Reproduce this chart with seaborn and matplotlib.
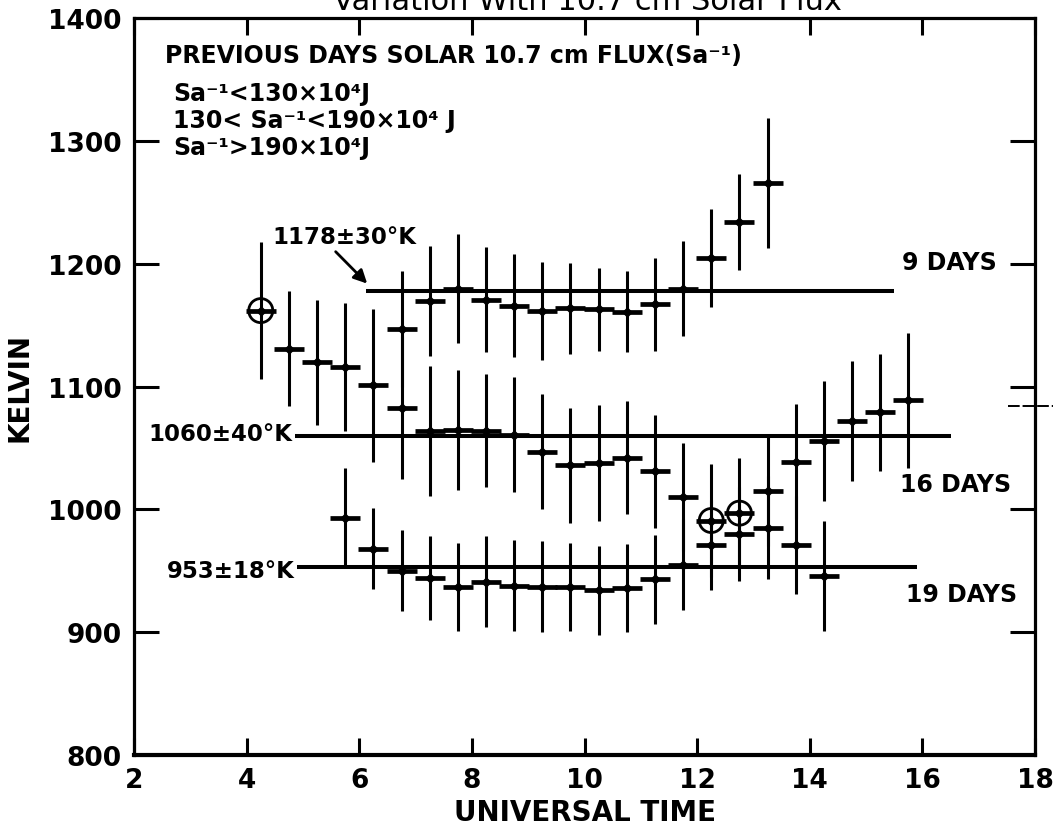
import matplotlib
matplotlib.use("Agg")
import matplotlib.pyplot as plt
import numpy as np
import pandas as pd
import seaborn as sns

# ---- data: exospheric temperature (K) vs universal time (h), three flux groups ----
ut_9 = [4.25, 6.75, 7.25, 7.75, 8.25, 8.75, 9.25, 9.75, 10.25, 10.75, 11.25,
        11.75, 12.25, 12.75, 13.25]
temp_9 = [1162, 1147, 1170, 1180, 1171, 1166, 1162, 1164, 1163, 1161, 1167,
          1180, 1205, 1234, 1266]
err_9 = [56, 47, 45, 44, 43, 42, 40, 37, 34, 33, 38, 39, 40, 39, 53]

ut_16 = [4.75, 5.25, 5.75, 6.25, 6.75, 7.25, 7.75, 8.25, 8.75, 9.25, 9.75,
         10.25, 10.75, 11.25, 11.75, 12.25, 12.75, 13.25, 13.75, 14.25, 14.75,
         15.25, 15.75]
temp_16 = [1131, 1120, 1116, 1101, 1083, 1064, 1065, 1064, 1061, 1047, 1036,
           1038, 1042, 1031, 1010, 991, 997, 1015, 1039, 1056, 1072, 1079, 1089]
err_16 = [47, 51, 52, 62, 58, 53, 49, 46, 47, 47, 47, 47, 46, 46, 44, 46, 45,
          45, 47, 49, 49, 48, 55]

ut_19 = [5.75, 6.25, 6.75, 7.25, 7.75, 8.25, 8.75, 9.25, 9.75, 10.25, 10.75,
         11.25, 11.75, 12.25, 12.75, 13.25, 13.75, 14.25]
temp_19 = [993, 968, 950, 944, 937, 941, 938, 937, 937, 934, 936, 943, 955,
           971, 980, 985, 971, 946]
err_19 = [41, 33, 33, 34, 36, 37, 37, 37, 36, 36, 36, 36, 37, 37, 38, 42, 40, 45]

# circled (highlighted) observations
circled_ut = [4.25, 12.25, 12.75]
circled_temp = [1162, 991, 997]

# group means and scatter
group_names = ["9 DAYS", "16 DAYS", "19 DAYS"]
group_mean = [1178, 1060, 953]
group_sd = [30, 40, 18]

legend_lines = [
    "PREVIOUS DAYS SOLAR 10.7 cm FLUX(Sa\u207b\u00b9)",
    "Sa\u207b\u00b9<130\u00d710\u2074J",
    "130< Sa\u207b\u00b9<190\u00d710\u2074 J",
    "Sa\u207b\u00b9>190\u00d710\u2074J",
]

df = pd.concat([
    pd.DataFrame({"ut": ut_9, "temp": temp_9, "err": err_9, "group": "9 DAYS"}),
    pd.DataFrame({"ut": ut_16, "temp": temp_16, "err": err_16, "group": "16 DAYS"}),
    pd.DataFrame({"ut": ut_19, "temp": temp_19, "err": err_19, "group": "19 DAYS"}),
], ignore_index=True)

# ---- style ----
sns.set_theme(style="ticks")
plt.rcParams["font.family"] = ["DejaVu Sans"]
plt.rcParams["font.weight"] = "bold"
for key in ["text.color", "axes.labelcolor", "xtick.color", "ytick.color",
            "axes.edgecolor"]:
    plt.rcParams[key] = "black"

fig = plt.figure(figsize=(10.53, 8.28), dpi=100)
ax = fig.add_axes([0.1273, 0.0870, 0.8557, 0.8895])

# vertical error bars
ax.errorbar(df["ut"], df["temp"], yerr=df["err"], fmt="none",
            ecolor="black", elinewidth=2.2, capsize=0, zorder=2)

# horizontal dash marks for each hourly mean
sns.scatterplot(data=df, x="ut", y="temp", marker="_", s=470,
                color="black", linewidth=3.4, legend=False, ax=ax, zorder=3)
sns.scatterplot(data=df, x="ut", y="temp", marker="D", s=26,
                color="black", edgecolor="black", legend=False, ax=ax, zorder=4)

# open circles
ax.scatter(circled_ut, circled_temp, s=300, facecolors="none",
           edgecolors="black", linewidths=2.0, zorder=5)

# group mean lines
line_spans = [(6.12, 15.5), (4.86, 16.5), (4.9, 15.9)]
for m, (x0, x1) in zip(group_mean, line_spans):
    ax.hlines(m, x0, x1, color="black", lw=2.9, zorder=2.5)

# mean labels
ax.text(4.45, 1222, f"{group_mean[0]}\u00b1{group_sd[0]}\u00b0K",
        fontsize=16.5, fontweight="bold", ha="left", va="center")
ax.annotate("", xy=(6.14, 1184), xytext=(5.58, 1210),
            arrowprops=dict(arrowstyle="-|>", lw=2.0, color="black",
                            mutation_scale=20, shrinkA=0, shrinkB=0))
ax.text(4.82, 1062, f"{group_mean[1]}\u00b1{group_sd[1]}\u00b0K",
        fontsize=16.5, fontweight="bold", ha="right", va="center")
ax.text(4.86, 950, f"{group_mean[2]}\u00b1{group_sd[2]}\u00b0K",
        fontsize=16.5, fontweight="bold", ha="right", va="center")

# group names on the right
for name, (x, y) in zip(group_names, [(15.63, 1202), (15.6, 1021), (15.7, 931)]):
    ax.text(x, y, name, fontsize=17, fontweight="bold", ha="left", va="center")

# flux legend text block
ax.text(2.55, 1370, legend_lines[0], fontsize=17, fontweight="bold",
        ha="left", va="center")
for txt, y in zip(legend_lines[1:], [1339, 1317, 1295]):
    ax.text(2.69, y, txt, fontsize=17, fontweight="bold", ha="left", va="center")

# stray mark crossing the right frame
ax.plot([17.52, 18.4], [1084, 1084], color="black", lw=1.4, ls=(0, (6, 1.5)),
        clip_on=False)

# ---- axes ----
ax.set_xlim(2, 18)
ax.set_ylim(800, 1400)
ax.set_xticks(np.arange(2, 19, 2))
ax.set_yticks(np.arange(800, 1401, 100))
ax.tick_params(axis="both", which="major", direction="in", width=2.2,
               labelsize=19, color="black", labelcolor="black")
ax.tick_params(axis="x", length=12, pad=9, top=True)
ax.tick_params(axis="y", length=18, pad=9, right=True)
for lbl in ax.get_xticklabels() + ax.get_yticklabels():
    lbl.set_fontweight("bold")
for side in ["left", "right", "top", "bottom"]:
    ax.spines[side].set_linewidth(2.3)
    ax.spines[side].set_color("black")
ax.spines["bottom"].set_linewidth(3.0)

ax.set_xlabel("UNIVERSAL TIME", fontsize=20, fontweight="bold", labelpad=3)
ax.set_ylabel("KELVIN", fontsize=20, fontweight="bold", labelpad=10)

fig.text(0.558, 1 - 10 / 828, "Variation With 10.7 cm Solar Flux",
         fontsize=22, ha="center", va="baseline", fontweight="normal")

fig.savefig("out.png", dpi=100, facecolor="white")
